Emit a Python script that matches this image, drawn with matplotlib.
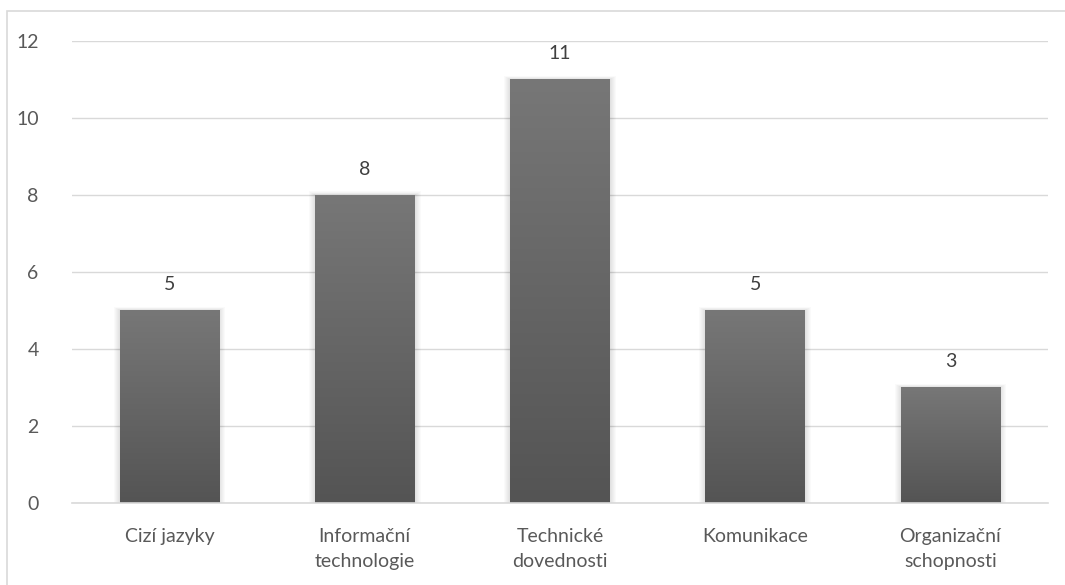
import matplotlib.pyplot as plt
import numpy as np
from matplotlib.colors import LinearSegmentedColormap
from matplotlib.patches import Rectangle

categories = ["Cizí jazyky", "Informační\ntechnologie", "Technické\ndovednosti",
              "Komunikace", "Organizační\nschopnosti"]
values = [5, 8, 11, 5, 3]

plt.rcParams["font.family"] = ["Lato", "DejaVu Sans"]
text_color = "#595959"
grid_color = "#d9d9d9"

fig = plt.figure(figsize=(10.65, 5.85), dpi=100)
ax = fig.add_axes([72 / 1065, 1 - 503 / 585, 976 / 1065, 462 / 585])

# outer chart frame
fig.patches.append(Rectangle((7 / 1065, -0.1), 1.2, 1 - 11 / 585 + 0.1,
                             transform=fig.transFigure, fill=False,
                             edgecolor=grid_color, linewidth=1.2, zorder=0))

x = np.arange(len(categories))
width = 0.51

# pixel size in data units, used for the soft shadow around bars
px_x = len(categories) / 976
px_y = 12 / 462

cmap = LinearSegmentedColormap.from_list("bar", ["#545454", "#777777"])
grad = np.linspace(0, 1, 256).reshape(-1, 1)

for xi, v in zip(x, values):
    for k in range(1, 7):
        ax.add_patch(Rectangle((xi - width / 2 - k * px_x, 0), width + 2 * k * px_x,
                               v + k * px_y * 0.6, facecolor="black", alpha=0.018,
                               edgecolor="none", zorder=2))
    ax.imshow(grad, cmap=cmap, origin="lower", aspect="auto", zorder=3,
              extent=(xi - width / 2, xi + width / 2, 0, v), interpolation="bilinear")
    ax.text(xi, v + 0.45, str(v), ha="center", va="bottom", fontsize=14,
            color="#404040")

ax.set_xlim(-0.5, len(categories) - 0.5)
ax.set_ylim(0, 12)
ax.set_yticks(range(0, 13, 2))
ax.set_xticks(x, categories)
ax.grid(axis="y", color=grid_color, linewidth=1.0, zorder=1)
ax.set_axisbelow(True)
for side in ["top", "right", "left"]:
    ax.spines[side].set_visible(False)
ax.spines["bottom"].set_color(grid_color)
ax.spines["bottom"].set_linewidth(1.2)
ax.spines["bottom"].set_zorder(4)
ax.tick_params(axis="both", length=0, labelsize=14, labelcolor=text_color)
ax.tick_params(axis="y", pad=24)
ax.tick_params(axis="x", pad=18)
for lab in ax.get_xticklabels():
    lab.set_linespacing(1.6)
ax.set_facecolor("none")

fig.savefig("out.png", dpi=100)
